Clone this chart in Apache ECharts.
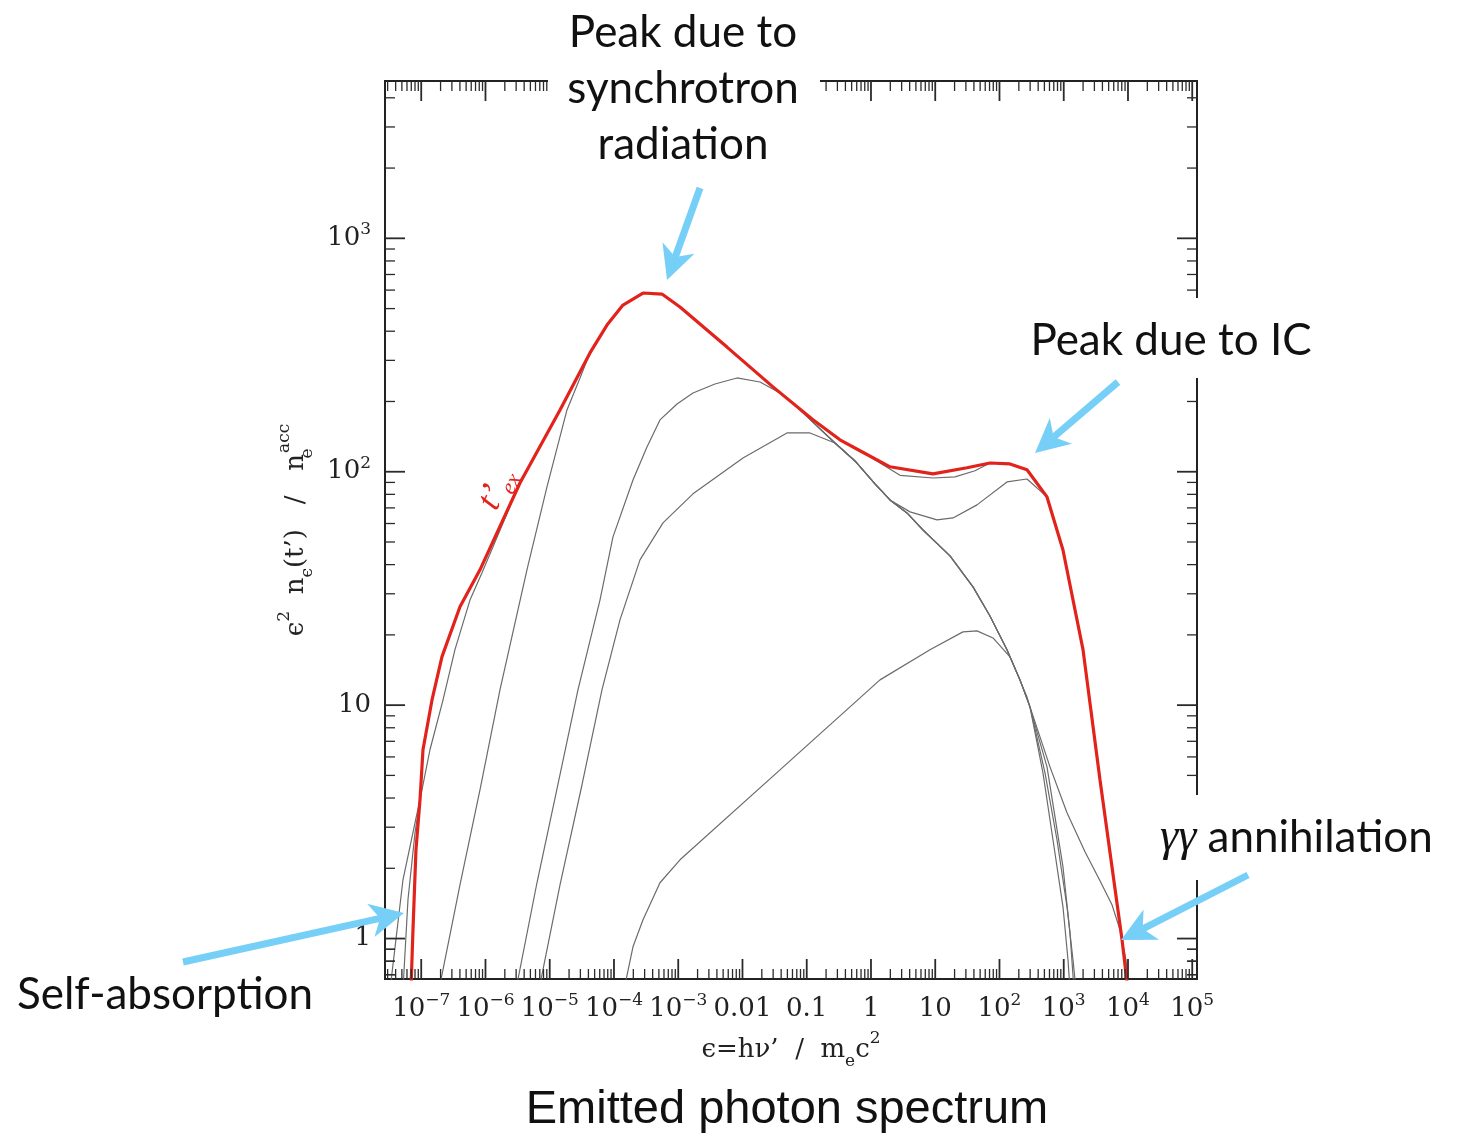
<!DOCTYPE html>
<html><head><meta charset="utf-8">
<script src="https://cdn.jsdelivr.net/npm/echarts@6/dist/echarts.min.js"></script>
<style>html,body{margin:0;padding:0;background:#fff}#c{width:1462px;height:1137px}</style>
</head><body><div id="c"></div>
<script>
// ---------- axis ranges ----------
const X_MIN = 2.73e-8, X_MAX = 1.186e5;
const Y_MIN = 0.671, Y_MAX = 4721;

// ---------- tick values & labels ----------
const xMajorTicks = [1e-7,1e-6,1e-5,1e-4,1e-3,1e-2,1e-1,1,10,100,1e3,1e4,1e5];
const xTickLabels = ['{b|10}{s|−7}','{b|10}{s|−6}','{b|10}{s|−5}','{b|10}{s|−4}','{b|10}{s|−3}',
  '{b|0.01}','{b|0.1}','{b|1}','{b|10}','{b|10}{s|2}','{b|10}{s|3}','{b|10}{s|4}','{b|10}{s|5}'];
const yMajorTicks = [1,10,100,1000];
const yTickLabels = ['{b|1}','{b|10}','{b|10}{s|2}','{b|10}{s|3}'];
const minorMultipliers = [2,3,4,5,6,7,8,9];

// ---------- curves (x = ε, y = ε² n_ε / n_e^acc) ----------
// red envelope t'_ex, in segments
const redLow  = [[6.92e-8,0.604],[7.44e-8,1.09],[8.28e-8,2.40],[9.57e-8,3.93],[1.065e-7,6.44],
                 [1.469e-7,10.5],[2.10e-7,16.1],[4.01e-7,26.4],[8.21e-7,38.0]];
const redPeak = [[3.44e-6,89.5],[1.445e-5,184],[4.23e-5,323],[7.78e-5,425],[1.38e-4,518],
                 [2.83e-4,583],[5.58e-4,577],[1.065e-3,508],[5.74e-3,342],[0.0298,231]];
const redMid  = [[0.125,167],[0.329,137],[0.674,123]];
const redBump = [[1.976,105],[9.22,97.9],[31.2,104]];
const redIC   = [[71.1,109],[145.7,108],[268,102]];
const redTail = [[549,78.0],[973,46.2],[1995,17.3],[3665,4.79],[8070,0.99],[1.0e4,0.60]];

// grey (earlier-time) spectra pieces
const aLow  = [[3.27e-8,0.604],[5.20e-8,1.786],[8.0e-8,3.13],[9.91e-8,4.13],[1.368e-7,6.44],
               [2.18e-7,10.5],[3.35e-7,17.3],[5.74e-7,28.2],[8.83e-7,36.9]];
const a2Low = [[5.20e-8,0.604],[6.22e-8,1.466],[8.0e-8,2.84]];
const bLow  = [[1.889e-7,0.604],[4.01e-7,1.70],[8.21e-7,4.34],[1.681e-6,11.63],[4.42e-6,37.97],
               [9.06e-6,86.1],[1.855e-5,184],[2.96e-5,252]];
const cLow  = [[2.98e-6,0.604],[6.33e-6,1.734],[1.297e-5,4.38],[2.75e-5,11.63],[6.05e-5,28.2],
               [9.65e-5,52.6],[1.976e-4,92.2],[3.26e-4,127.7],[5.2e-4,166.7],[9.57e-4,195.1],
               [1.697e-3,217.5],[3.73e-3,237.7],[8.21e-3,252.2],[0.01873,242.4],[0.03835,217.5]];
const dLow  = [[6.8e-6,0.604],[1.445e-5,1.70],[3.18e-5,4.56],[6.5e-5,11.63],[1.24e-4,23.2],
               [2.54e-4,41.9],[5.79e-4,60.4],[1.697e-3,80.4],[0.01018,114.6],[0.04927,146.6],[0.1123,146.6]];
const eHump = [[1.431e-4,0.604],[1.976e-4,0.922],[2.83e-4,1.204],[5.2e-4,1.734],[1.065e-3,2.175],
               [0.03835,5.28],[1.381,12.83],[8.28,17.26],[27.0,20.6],[44.7,20.8],[79.2,19.4],
               [145.7,16.1],[268,10.85],[549,5.44],[973,2.03],[1251,1.059],[1444,0.604]];
const bundle = [[0.0656,193],[0.1344,160],[0.2753,132.8],[0.5636,111.2],[1.154,88.7],[1.976,75.7]];
const fPath  = [[3.63,66.6],[6.45,56.3],[16.97,43.6],[38.7,32.1],[71.1,24.1],[130.8,17.26],[208.5,12.83],[298.3,9.83]];
const dPath  = [[4.05,67.3],[10.65,62.2],[18.9,63.4],[44.7,72.1],[130.8,90.4],[268,93.1]];
const ePath  = [[2.83,96.5],[9.22,94.0],[20.3,95.0],[41.6,101]];
const shallowTail = [[611,5.44],[1124,3.46],[2141,2.353],[3665,1.768],[5636,1.396],[7506,1.09],[9310,0.811],[1.0e4,0.60]];
const steepTail1  = [[475,5.13],[680,2.65],[973,1.368],[1165,0.811],[1251,0.604]];
const steepTail2  = [[511,5.13],[785,2.65],[1124,1.368],[1393,0.811],[1552,0.604]];

const redCurve = [].concat(redLow, redPeak, redMid, redBump, redIC, redTail);
const grayCurves = [
  [].concat(aLow, redPeak, redMid, ePath, redIC, redTail),
  [].concat(a2Low, redLow.slice(3), redPeak, bundle, dPath, redTail),
  [].concat(bLow, redPeak.slice(2), bundle, fPath, shallowTail),
  [].concat(cLow, bundle, fPath, steepTail2),
  [].concat(dLow, bundle.slice(2), fPath, steepTail1),
  eHump
];

// ---------- styles ----------
const RED = '#e2231c', GRAY = '#6b6b6b', ARROW = '#76cff7', TICK = '#2a2a2a';
const SERIF = "'DejaVu Serif', 'Liberation Serif', serif";
const tickRich = {
  b: {fontFamily: SERIF, fontSize: 26, lineHeight: 34, verticalAlign: 'middle', fill: '#222'},
  s: {fontFamily: SERIF, fontSize: 17, lineHeight: 27, verticalAlign: 'top', fill: '#222'}
};

// minor ticks
const xMinorTicks = [], yMinorTicks = [];
for (let k = -8; k <= 5; k++) minorMultipliers.forEach(m => { const v = m * Math.pow(10, k); if (v > X_MIN && v < X_MAX) xMinorTicks.push(v); });
for (let k = -1; k <= 3; k++) minorMultipliers.forEach(m => { const v = m * Math.pow(10, k); if (v > Y_MIN && v < Y_MAX) yMinorTicks.push(v); });
[0.7,0.8,0.9].forEach(v => { if (v > Y_MIN) yMinorTicks.push(v); });

const xTickData = xMajorTicks.map((v, i) => [v, Y_MIN, 1, i]).concat(xMinorTicks.map(v => [v, Y_MIN, 0, -1]));
const yTickData = yMajorTicks.map((v, i) => [X_MIN, v, 1, i]).concat(yMinorTicks.map(v => [X_MIN, v, 0, -1]));

function renderXTick(params, api) {
  const v = api.value(0), major = api.value(2), idx = api.value(3);
  const cs = params.coordSys;
  const px = api.coord([v, Y_MIN])[0];
  const len = major ? 20 : 10;
  const top = cs.y, bot = cs.y + cs.height;
  const st = {stroke: TICK, lineWidth: major ? 1.8 : 1.3};
  const ch = [
    {type: 'line', shape: {x1: px, y1: bot, x2: px, y2: bot - len}, style: st},
    {type: 'line', shape: {x1: px, y1: top, x2: px, y2: top + len}, style: st}
  ];
  if (major) ch.push({type: 'text', style: {text: xTickLabels[idx], x: px, y: bot + 30, align: 'center', verticalAlign: 'middle', rich: tickRich}});
  return {type: 'group', children: ch};
}
function renderYTick(params, api) {
  const v = api.value(1), major = api.value(2), idx = api.value(3);
  const cs = params.coordSys;
  const py = api.coord([X_MIN, v])[1];
  const len = major ? 20 : 10;
  const left = cs.x, right = cs.x + cs.width;
  const st = {stroke: TICK, lineWidth: major ? 1.8 : 1.3};
  const ch = [
    {type: 'line', shape: {x1: left, y1: py, x2: left + len, y2: py}, style: st},
    {type: 'line', shape: {x1: right, y1: py, x2: right - len, y2: py}, style: st}
  ];
  if (major) ch.push({type: 'text', style: {text: yTickLabels[idx], x: left - 14, y: py, align: 'right', verticalAlign: 'middle', rich: tickRich}});
  return {type: 'group', children: ch};
}

function arrow(sx, sy, tx, ty) {
  const dx = tx - sx, dy = ty - sy, L = Math.hypot(dx, dy), ux = dx / L, uy = dy / L, nx = -uy, ny = ux;
  const hl = 34, hw = 17;
  const bx = tx - ux * hl, by = ty - uy * hl;
  const nxp = tx - ux * hl * 0.72, nyp = ty - uy * hl * 0.72;
  return [
    {type: 'line', z: 70, shape: {x1: sx, y1: sy, x2: nxp, y2: nyp}, style: {stroke: ARROW, lineWidth: 7}},
    {type: 'polygon', z: 71, shape: {points: [[tx, ty], [bx + nx * hw, by + ny * hw], [nxp, nyp], [bx - nx * hw, by - ny * hw]]}, style: {fill: ARROW}}
  ];
}

const ANN_FONT = "44px Lato, 'Open Sans', sans-serif";
const titleRich = {
  m: {fontFamily: SERIF, fontSize: 26, lineHeight: 40, verticalAlign: 'middle', fill: '#222'},
  d: {fontFamily: SERIF, fontSize: 17, lineHeight: 20, verticalAlign: 'bottom', fill: '#222'},
  e: {fontFamily: SERIF, fontSize: 17, lineHeight: 20, verticalAlign: 'bottom', fill: '#222', width: 1},
  s: {fontFamily: SERIF, fontSize: 17, lineHeight: 30, verticalAlign: 'top', fill: '#222'}
};
const graphics = [
  {type: 'rect', z: 50, shape: {x: 548, y: 0, width: 272, height: 172}, style: {fill: '#fff'}},
  {type: 'rect', z: 50, shape: {x: 1012, y: 298, width: 320, height: 80}, style: {fill: '#fff'}},
  {type: 'rect', z: 50, shape: {x: 1150, y: 795, width: 300, height: 85}, style: {fill: '#fff'}},
  {type: 'text', z: 60, style: {text: 'Peak due to\nsynchrotron\nradiation', x: 683, y: 5, align: 'center', verticalAlign: 'top', font: ANN_FONT, lineHeight: 56, fill: '#111'}},
  {type: 'text', z: 60, style: {text: 'Peak due to IC', x: 1171, y: 341, align: 'center', verticalAlign: 'middle', font: ANN_FONT, fill: '#111'}},
  {type: 'text', z: 60, style: {text: 'Self-absorption', x: 165, y: 995, align: 'center', verticalAlign: 'middle', font: ANN_FONT, fill: '#111'}},
  {type: 'text', z: 60, style: {text: '{g|γγ}{a| annihilation}', x: 1160, y: 838, align: 'left', verticalAlign: 'middle',
     rich: {g: {fontFamily: "'Liberation Serif', serif", fontStyle: 'italic', fontSize: 46, fill: '#111', lineHeight: 50},
            a: {font: ANN_FONT, fill: '#111', lineHeight: 50}}}},
  {type: 'text', z: 60, style: {text: 'Emitted photon spectrum', x: 787, y: 1110, align: 'center', verticalAlign: 'middle', font: "47px 'Liberation Sans', Arial, sans-serif", fill: '#111'}},
  {type: 'text', z: 60, style: {text: '{m|ϵ=hν’  /  m}{d|e}{m|c}{s|2}', x: 791, y: 1050, align: 'center', verticalAlign: 'middle', rich: titleRich}},
  {type: 'text', z: 60, x: 296, y: 530, rotation: Math.PI / 2, style: {text: '{m|ϵ}{s|2}{m|  n}{d|ϵ}{m|(t’)   /   n}{e|e}{s|acc}', x: 0, y: 0, align: 'center', verticalAlign: 'middle', rich: titleRich}},
  {type: 'text', z: 60, x: 497, y: 489, rotation: 63 * Math.PI / 180, style: {text: '{t|t’}{s|ex}', x: 0, y: 0, align: 'center', verticalAlign: 'middle',
     rich: {t: {fontFamily: "'Liberation Serif', serif", fontStyle: 'italic', fontSize: 36, lineHeight: 44, verticalAlign: 'middle', fill: RED},
            s: {fontFamily: "'Liberation Serif', serif", fontStyle: 'italic', fontSize: 22, lineHeight: 22, verticalAlign: 'bottom', fill: RED}}}}
].concat(arrow(700, 188, 667, 280), arrow(1118, 382, 1035, 453), arrow(183, 962, 404, 913), arrow(1248, 875, 1121, 940));

const chart = echarts.init(document.getElementById('c'));
const lineBase = {type: 'line', showSymbol: false, symbol: 'none', silent: true, animation: false, clip: true};
chart.setOption({
  animation: false,
  backgroundColor: '#fff',
  grid: {left: 385, top: 81, width: 812, height: 898, show: true, borderColor: '#222', borderWidth: 2, backgroundColor: 'transparent'},
  xAxis: {type: 'log', logBase: 10, min: X_MIN, max: X_MAX, axisLine: {show: false}, axisTick: {show: false}, axisLabel: {show: false}, splitLine: {show: false}},
  yAxis: {type: 'log', logBase: 10, min: Y_MIN, max: Y_MAX, axisLine: {show: false}, axisTick: {show: false}, axisLabel: {show: false}, splitLine: {show: false}},
  series: grayCurves.map(c => Object.assign({}, lineBase, {data: c, z: 2, lineStyle: {color: GRAY, width: 1.2}}))
    .concat([
      Object.assign({}, lineBase, {data: redCurve, z: 4, lineStyle: {color: RED, width: 3.2}}),
      {type: 'custom', renderItem: renderXTick, data: xTickData, z: 6, silent: true, animation: false, encode: {x: 0, y: 1}},
      {type: 'custom', renderItem: renderYTick, data: yTickData, z: 6, silent: true, animation: false, encode: {x: 0, y: 1}}
    ]),
  graphic: graphics
});
</script></body></html>
